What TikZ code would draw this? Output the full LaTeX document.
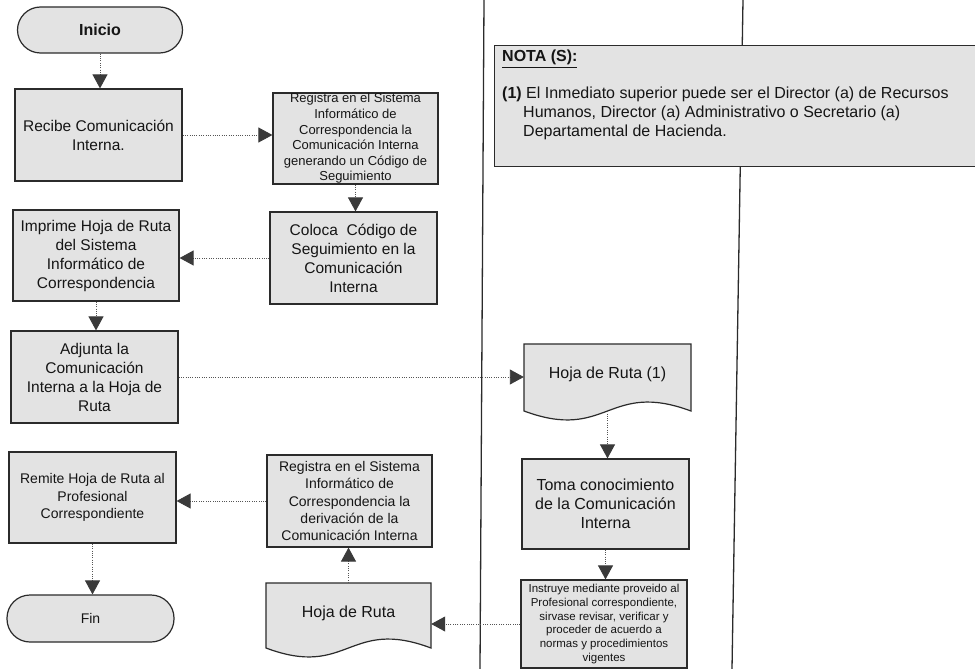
\documentclass[tikz,border=0pt]{standalone}
\usepackage{fontspec}
\setmainfont{Liberation Sans}
\usetikzlibrary{arrows.meta}
\definecolor{boxfill}{HTML}{E3E3E3}
\definecolor{boxline}{HTML}{2B2B2B}
\definecolor{arrowgray}{HTML}{3A3A3A}
\definecolor{dotgray}{HTML}{555555}
\definecolor{inkcol}{HTML}{151515}
\newcommand\myfsXL{\fontsize{16}{19}\selectfont}
\newcommand\myfsL{\fontsize{15.5}{19}\selectfont}
\newcommand\myfsM{\fontsize{14}{17.4}\selectfont}
\newcommand\myfsS{\fontsize{13}{15.6}\selectfont}
\newcommand\myfsT{\fontsize{11.5}{13.9}\selectfont}
\begin{document}
\begin{tikzpicture}[x=1pt,y=-1pt,
  proc/.style={draw=boxline, line width=1.2pt, fill=boxfill, align=center, inner sep=1pt, text=inkcol},
  docshape/.style={draw=boxline, line width=1.2pt, fill=boxfill},
  flow/.style={draw=dotgray, line width=0.9pt, dash pattern=on 1pt off 1.3pt,
    -{Triangle[length=14pt,width=15pt,fill=arrowgray,color=arrowgray]}},
  lane/.style={draw=boxline, line width=1.3pt},
  notetxt/.style={anchor=base west, inner sep=0pt, font=\myfsXL, text=inkcol}
]
\useasboundingbox[fill=white] (0,0) rectangle (975,669);

% lane separators
\coordinate (laneAtop) at (484,0);
\coordinate (laneAbot) at (480,669);
\coordinate (laneBtop) at (743,0);
\coordinate (laneBbot) at (732,669);
\draw[lane] (laneAtop) -- (laneAbot);
\draw[lane] (laneBtop) -- (laneBbot);

% note box
\node[draw=boxline, line width=1.2pt, fill=boxfill, anchor=north west,
      minimum width=484pt, minimum height=121pt, inner sep=0pt] (nota) at (494,45) {};
\node[notetxt, font=\bfseries\myfsXL] (notatitle) at (502,62) {\underline{NOTA (S):}};
\node[notetxt] (notaA) at (502,99) {\textbf{(1)} El Inmediato superior puede ser el Director (a) de Recursos};
\node[notetxt] (notaB) at (523,117.5) {Humanos, Director (a) Administrativo o Secretario (a)};
\node[notetxt] (notaC) at (523,136) {Departamental de Hacienda.};

% left column
\node[proc, rounded corners=23pt, minimum width=165pt, minimum height=46pt, font=\bfseries\myfsXL] (inicio) at (100,30) {Inicio};
\node[proc, minimum width=167pt, minimum height=92pt, font=\myfsL] (recibe) at (98.5,135) {Recibe Comunicación\\Interna.};
\node[proc, minimum width=166pt, minimum height=91pt, font=\myfsL] (imprime) at (96,255.5) {Imprime Hoja de Ruta\\del Sistema\\Informático de\\Correspondencia};
\node[proc, minimum width=167pt, minimum height=92pt, font=\myfsL] (adjunta) at (94.5,377) {Adjunta la\\Comunicación\\Interna a la Hoja de\\Ruta};
\node[proc, minimum width=167pt, minimum height=91pt, font=\myfsM] (remite) at (92.5,497.5) {Remite Hoja de Ruta al\\Profesional\\Correspondiente};
\node[proc, rounded corners=23pt, minimum width=167pt, minimum height=47pt, font=\myfsM] (fin) at (90.5,618.5) {Fin};

% middle column
\node[proc, inner ysep=0pt, minimum width=165pt, minimum height=91pt, font=\myfsS] (reg1) at (355.5,138.5) {Registra en el Sistema\\Informático de\\Correspondencia la\\Comunicación Interna\\generando un Código de\\Seguimiento};
\node[proc, minimum width=167pt, minimum height=92pt, font=\myfsL] (coloca) at (353.5,258) {Coloca\ \ Código de\\Seguimiento en la\\Comunicación\\Interna};
\node[proc, minimum width=165pt, minimum height=92pt, font=\myfsM] (reg2) at (349.5,501) {Registra en el Sistema\\Informático de\\Correspondencia la\\derivación de la\\Comunicación Interna};
\draw[docshape] (266,583) -- (431,583) -- (431,648) .. controls (348.5,617) and (348.5,679) .. (266,648) -- cycle;
\node[minimum width=165pt, minimum height=65pt, inner sep=0pt, text height=12pt, text depth=9pt, font=\myfsXL, text=inkcol] (hoja2) at (348.5,615.5) {Hoja de Ruta};

% right column
\draw[docshape] (524,344) -- (691,344) -- (691,411) .. controls (607.5,380) and (607.5,442) .. (524,411) -- cycle;
\node[minimum width=167pt, minimum height=67pt, inner sep=0pt, text height=12pt, text depth=11pt, font=\myfsXL, text=inkcol] (hoja1) at (607.5,377.5) {Hoja de Ruta (1)};
\node[proc, minimum width=167pt, minimum height=90pt, font=\myfsXL] (toma) at (605.5,504) {Toma conocimiento\\de la Comunicación\\Interna};
\node[proc, minimum width=166pt, minimum height=88pt, font=\myfsT] (instruye) at (604,624) {Instruye mediante proveido al\\Profesional correspondiente,\\sirvase revisar, verificar y\\proceder de acuerdo a\\normas y procedimientos\\vigentes};

% connectors
\draw[flow] (inicio.south) -- (inicio.south |- recibe.north);
\draw[flow] (recibe.east) -- (recibe.east -| reg1.west);
\draw[flow] (reg1.south) -- (reg1.south |- coloca.north);
\draw[flow] (coloca.west) -- (coloca.west -| imprime.east);
\draw[flow] (imprime.south) -- (imprime.south |- adjunta.north);
\draw[flow] (adjunta.east) -- (adjunta.east -| hoja1.west);
\draw[flow] (hoja1.south) -- (hoja1.south |- toma.north);
\draw[flow] (toma.south) -- (toma.south |- instruye.north);
\draw[flow] (instruye.west) -- (instruye.west -| hoja2.east);
\draw[flow] (hoja2.north) -- (hoja2.north |- reg2.south);
\draw[flow] (reg2.west) -- (reg2.west -| remite.east);
\draw[flow] (remite.south) -- (remite.south |- fin.north);
\end{tikzpicture}
\end{document}
